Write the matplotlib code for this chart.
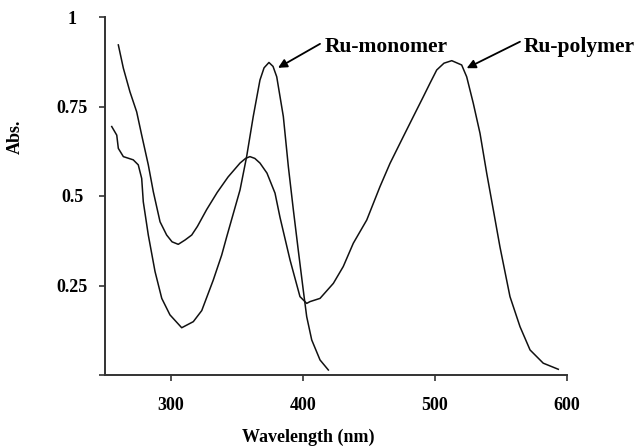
import matplotlib
matplotlib.use('Agg')
import matplotlib.pyplot as plt

plt.rcParams['font.family'] = ['Liberation Serif', 'DejaVu Serif']
plt.rcParams['font.weight'] = 'bold'

# Ru-polymer spectrum (wavelength nm, absorbance)
poly_wl = [260.1, 263.9, 268.9, 274.0, 277.8, 282.8, 286.6, 291.7, 296.7, 300.8,
           305.5, 310.6, 315.7, 320.0, 327.0, 335.0, 343.2, 352.3, 356.5, 359.8,
           363.5, 367.4, 372.7, 378.8, 382.6, 390.2, 397.7, 402.8, 405.3, 412.9,
           423.0, 430.5, 438.1, 448.3, 458.3, 465.9, 476.0, 483.6, 491.1, 496.2,
           501.3, 506.8, 512.7, 520.2, 524.0, 529.0, 534.1, 539.2, 544.2, 549.2,
           556.8, 564.4, 572.0, 582.0, 593.4]
poly_abs = [0.922, 0.857, 0.791, 0.735, 0.670, 0.587, 0.512, 0.428, 0.391, 0.372,
            0.365, 0.377, 0.391, 0.415, 0.462, 0.510, 0.553, 0.592, 0.605, 0.610,
            0.605, 0.592, 0.564, 0.508, 0.440, 0.321, 0.219, 0.200, 0.205, 0.214,
            0.256, 0.303, 0.368, 0.433, 0.526, 0.591, 0.666, 0.722, 0.777, 0.815,
            0.852, 0.871, 0.878, 0.866, 0.833, 0.759, 0.675, 0.563, 0.461, 0.358,
            0.219, 0.135, 0.070, 0.033, 0.016]

# Ru-monomer spectrum
mono_wl = [255.1, 258.9, 260.1, 263.9, 271.4, 275.2, 277.8, 279.0, 282.8, 287.9,
           293.0, 299.2, 308.1, 316.9, 323.3, 332.0, 338.4, 342.2, 352.3, 357.3,
           362.3, 367.4, 370.5, 374.2, 377.3, 380.1, 385.1, 388.9, 392.7, 396.4,
           400.2, 402.8, 406.6, 412.9, 419.2]
mono_abs = [0.694, 0.670, 0.633, 0.610, 0.601, 0.587, 0.549, 0.484, 0.391, 0.289,
            0.214, 0.168, 0.132, 0.149, 0.180, 0.265, 0.335, 0.386, 0.517, 0.610,
            0.722, 0.824, 0.858, 0.873, 0.862, 0.833, 0.722, 0.582, 0.461, 0.349,
            0.237, 0.163, 0.098, 0.042, 0.014]

xticks = [300, 400, 500, 600]
yticks = [0, 0.25, 0.5, 0.75, 1]
ytick_labels = ['', '0.25', '0.5', '0.75', '1']

fig = plt.figure(figsize=(6.37, 4.46), dpi=100)
ax = fig.add_axes([105/637, 1-375/446, 462/637, 358/446])

ax.plot(poly_wl, poly_abs, color='#111111', lw=1.1)
ax.plot(mono_wl, mono_abs, color='#111111', lw=1.1)

ax.set_xlim(250, 600)
ax.set_ylim(0, 1)
ax.set_xticks(xticks)
ax.set_yticks(yticks)
ax.set_yticklabels(ytick_labels)
for t in ax.get_yticklabels():
    t.set_horizontalalignment('center')

for s in ['top', 'right']:
    ax.spines[s].set_visible(False)
for s in ['left', 'bottom']:
    ax.spines[s].set_color('#333333')
    ax.spines[s].set_linewidth(1.4)
ax.tick_params(axis='both', direction='out', length=4.5, width=1.2,
               color='#333333', labelsize=13)
ax.tick_params(axis='y', pad=19)
ax.tick_params(axis='x', pad=11)

# annotations
ax.annotate('', xy=(381.1, 0.858), xytext=(412.9, 0.925),
            arrowprops=dict(arrowstyle='-|>', color='black', lw=1.3,
                            mutation_scale=13, shrinkA=0, shrinkB=0))
ax.annotate('', xy=(524.0, 0.857), xytext=(564.4, 0.931),
            arrowprops=dict(arrowstyle='-|>', color='black', lw=1.3,
                            mutation_scale=13, shrinkA=0, shrinkB=0))
ax.text(416.5, 0.903, 'Ru-monomer', fontsize=15.5, fontweight='bold',
        va='baseline', ha='left')
ax.text(567.5, 0.903, 'Ru-polymer', fontsize=15.5, fontweight='bold',
        va='baseline', ha='left', clip_on=False)

fig.text(308/637, 1-437/446, 'Wavelength (nm)', fontsize=13, fontweight='bold',
         ha='center', va='center')
fig.text(15/637, 1-137/446, 'Abs.', fontsize=13, fontweight='bold',
         ha='center', va='center', rotation=90)

fig.savefig('out.png', dpi=100)
